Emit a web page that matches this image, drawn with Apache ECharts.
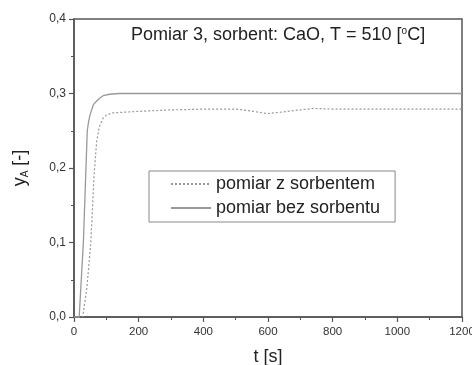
<!DOCTYPE html>
<html>
<head>
<meta charset="utf-8">
<script src="https://cdn.jsdelivr.net/npm/echarts@6/dist/echarts.min.js"></script>
<style>
html,body{margin:0;padding:0;background:#fff;}
#chart{width:472px;height:365px;}
</style>
</head>
<body>
<div id="chart"></div>
<script>
var seriesNames = ['pomiar z sorbentem', 'pomiar bez sorbentu'];
var withSorbent = [
  [0,0],[27,0],[40,0.04],[52,0.10],[62,0.19],[70,0.235],[78,0.255],[90,0.267],[100,0.271],
  [120,0.274],[160,0.275],[200,0.276],[300,0.278],[400,0.279],[500,0.279],[540,0.277],
  [570,0.275],[596,0.273],[620,0.274],[660,0.276],[700,0.278],[740,0.280],[800,0.279],
  [900,0.279],[1000,0.279],[1100,0.279],[1200,0.279]
];
var withoutSorbent = [
  [0,0],[16,0],[29,0.10],[41,0.25],[45,0.262],[50,0.272],[60,0.285],[70,0.290],[80,0.294],
  [90,0.297],[110,0.299],[140,0.300],[200,0.300],[400,0.300],[600,0.300],[800,0.300],
  [1000,0.300],[1200,0.300]
];
var xTicks = [0, 200, 400, 600, 800, 1000, 1200];
var yTicks = [0, 0.1, 0.2, 0.3, 0.4];

var font = 'Liberation Sans, Arial, sans-serif';
var chart = echarts.init(document.getElementById('chart'));
chart.setOption({
  animation: false,
  backgroundColor: '#fff',
  title: {
    text: 'Pomiar 3, sorbent: CaO, T = 510 [{sup|o}C]',
    left: 131, top: 26, padding: 0,
    textStyle: {
      fontFamily: font, fontSize: 18, fontWeight: 'normal', color: '#222',
      rich: { sup: { fontSize: 10, fontFamily: font, color: '#222', padding: [0,0,9,0] } }
    }
  },
  legend: {
    orient: 'vertical',
    left: 149, top: 171,
    data: seriesNames,
    itemWidth: 40, itemHeight: 14, itemGap: 6,
    padding: [4, 15, 5, 21],
    borderColor: '#888', borderWidth: 1,
    itemStyle: { opacity: 0 },
    textStyle: { fontFamily: font, fontSize: 18, color: '#222' }
  },
  grid: {
    left: 74, right: 10, top: 19, bottom: 48,
    outerBoundsMode: 'none',
    show: true, borderColor: '#555', borderWidth: 1.5, backgroundColor: '#fff'
  },
  xAxis: {
    type: 'value', min: xTicks[0], max: xTicks[xTicks.length-1], interval: 200,
    name: 't [s]', nameLocation: 'middle', nameGap: 31,
    nameTextStyle: { fontFamily: font, fontSize: 18, color: '#222' },
    axisLine: { show: true, lineStyle: { color: '#555', width: 1.5 } },
    axisTick: { show: true, inside: false, length: 5, lineStyle: { color: '#555', width: 1.2 } },
    minorTick: { show: true, splitNumber: 2, length: 3, lineStyle: { color: '#555', width: 1 } },
    splitLine: { show: false },
    axisLabel: {
      fontFamily: font, fontSize: 11.5, color: '#333', margin: 9,
      formatter: function (v) { return String(v); }
    }
  },
  yAxis: {
    type: 'value', min: yTicks[0], max: yTicks[yTicks.length-1], interval: 0.1,
    name: '{a|y}{sub|A}{a| [-]}', nameLocation: 'middle', nameGap: 44, nameRotate: 90,
    nameTextStyle: {
      fontFamily: font, fontSize: 18, color: '#222',
      rich: {
        a: { fontFamily: font, fontSize: 18, color: '#222' },
        sub: { fontFamily: font, fontSize: 10, color: '#222', padding: [9,0,0,0] }
      }
    },
    axisLine: { show: true, lineStyle: { color: '#555', width: 1.5 } },
    axisTick: { show: true, inside: false, length: 5, lineStyle: { color: '#555', width: 1.2 } },
    minorTick: { show: true, splitNumber: 2, length: 3, lineStyle: { color: '#555', width: 1 } },
    splitLine: { show: false },
    axisLabel: {
      fontFamily: font, fontSize: 12, color: '#333', margin: 8,
      formatter: function (v) { return v.toFixed(1).replace('.', ','); }
    }
  },
  series: [
    {
      name: seriesNames[0], type: 'line', data: withSorbent, showSymbol: false, symbol: 'none',
      lineStyle: { color: '#999', width: 1.2, type: [2, 2] }, itemStyle: { color: '#999' }
    },
    {
      name: seriesNames[1], type: 'line', data: withoutSorbent, showSymbol: false, symbol: 'none',
      lineStyle: { color: '#999', width: 1.3, type: 'solid' }, itemStyle: { color: '#999' }
    }
  ]
});
</script>
</body>
</html>
